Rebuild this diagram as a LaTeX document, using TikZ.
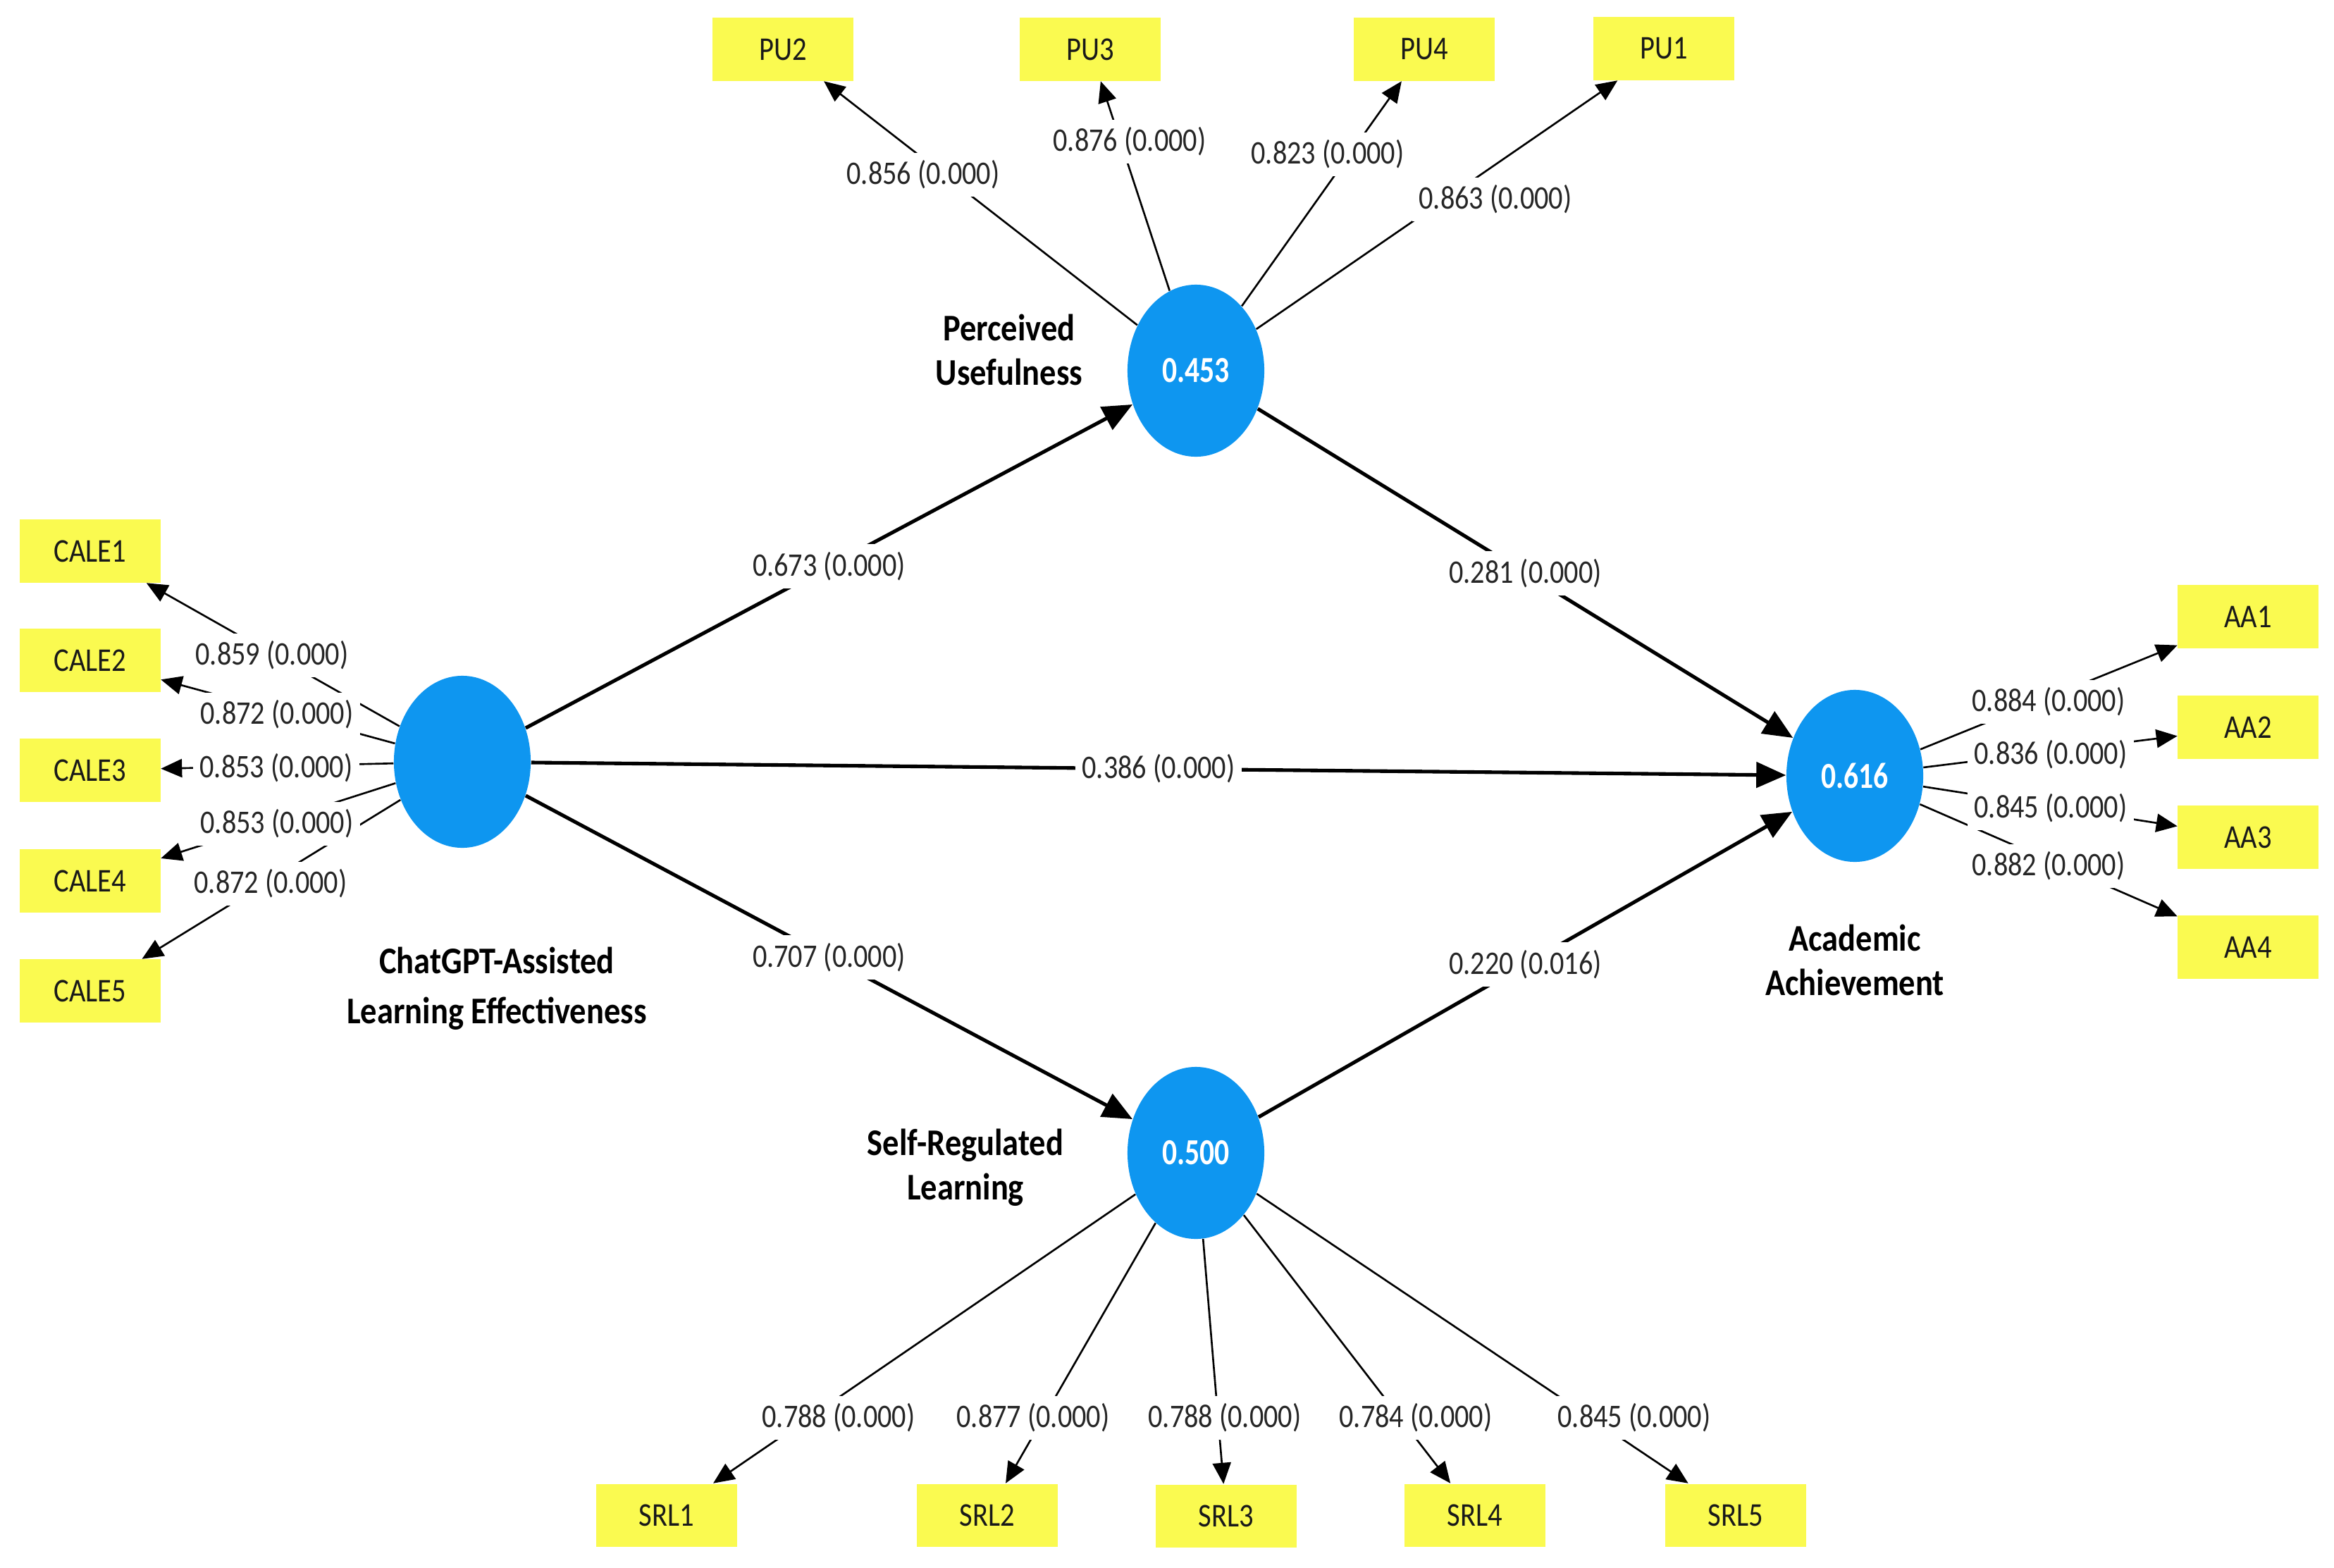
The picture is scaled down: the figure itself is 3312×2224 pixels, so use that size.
\documentclass[tikz,border=0pt]{standalone}
\usepackage{fontspec}
\setmainfont{Carlito}
\newfontfamily\lblfont[FakeStretch=0.86]{Carlito}
\newfontfamily\valfont[FakeStretch=0.8]{Carlito}
\newfontfamily\ttlfont[FakeStretch=0.87]{Carlito}
\usetikzlibrary{arrows.meta,calc,shapes.geometric}
\definecolor{lvblue}{RGB}{14,150,240}
\definecolor{mvyellow}{RGB}{250,250,80}
\begin{document}
\begin{tikzpicture}[x=0.01cm,y=-0.01cm,
 latent/.style={ellipse,fill=lvblue,minimum width=1.94cm,minimum height=2.44cm,inner sep=0pt,text=white,font=\valfont\bfseries\fontsize{14.8}{16}\selectfont},
 ind/.style={rectangle,fill=mvyellow,minimum width=1.99cm,minimum height=0.89cm,inner sep=0pt,font=\lblfont\fontsize{13.4}{15}\selectfont,text=black!90},
 ttl/.style={align=center,font=\ttlfont\bfseries\fontsize{15.2}{17.9}\selectfont,inner sep=0pt},
 coef/.style={fill=white,inner xsep=0.1cm,inner ysep=0.11cm,font=\lblfont\fontsize{13.3}{15}\selectfont,text=black!85},
 strpath/.style={line width=1.45pt,-{Triangle[length=0.42cm,width=0.36cm]}},
 loadpath/.style={line width=0.75pt,-{Triangle[length=0.3cm,width=0.26cm]}},
]
\fill[white] (0,0) rectangle (3312,2224);
\useasboundingbox (0,0) rectangle (3312,2224);

% latent variables
\node[latent] (cale) at (656,1081) {};
\node[latent] (pu) at (1697,526) {0.453};
\node[latent] (srl) at (1697,1636) {0.500};
\node[latent] (aa) at (2632,1101) {0.616};

% titles
\node[ttl,font=\ttlfont\bfseries\fontsize{15.2}{20.2}\selectfont] (tcale) at (705,1403) {ChatGPT-Assisted\\Learning Effectiveness};
\node[ttl] (tpu) at (1432,496) {Perceived\\Usefulness};
\node[ttl] (tsrl) at (1370,1657) {Self-Regulated\\Learning};
\node[ttl] (taa) at (2632,1362) {Academic\\Achievement};

% indicators
\node[ind] (cale1) at (128,782) {CALE1};
\node[ind] (cale2) at (128,937) {CALE2};
\node[ind] (cale3) at (128,1093) {CALE3};
\node[ind] (cale4) at (128,1250) {CALE4};
\node[ind] (cale5) at (128,1406) {CALE5};

\node[ind] (pu2) at (1111,70) {PU2};
\node[ind] (pu3) at (1547,70) {PU3};
\node[ind] (pu4) at (2021,70) {PU4};
\node[ind] (pu1) at (2361,69) {PU1};

\node[ind] (aa1) at (3190,875) {AA1};
\node[ind] (aa2) at (3190,1032) {AA2};
\node[ind] (aa3) at (3190,1188) {AA3};
\node[ind] (aa4) at (3190,1344) {AA4};

\node[ind] (srl1) at (946,2150) {SRL1};
\node[ind] (srl2) at (1401,2150) {SRL2};
\node[ind] (srl3) at (1740,2151) {SRL3};
\node[ind] (srl4) at (2093,2150) {SRL4};
\node[ind] (srl5) at (2463,2150) {SRL5};

% loading connectors
\foreach \i in {1,...,5} \draw[loadpath] (cale) -- (cale\i);
\foreach \i in {1,...,4} \draw[loadpath] (pu) -- (pu\i);
\foreach \i in {1,...,4} \draw[loadpath] (aa) -- (aa\i);
\foreach \i in {1,...,5} \draw[loadpath] (srl) -- (srl\i);

% structural paths
\draw[strpath] (cale) -- (pu);
\draw[strpath] (cale) -- (aa);
\draw[strpath] (cale) -- (srl);
\draw[strpath] (pu) -- (aa);
\draw[strpath] (srl) -- (aa);

% structural coefficients
\node[coef] (k1) at ($(cale)!0.5!(pu)$) {0.673 (0.000)};
\node[coef] (k2) at ($(cale)!0.5!(aa)$) {0.386 (0.000)};
\node[coef] (k3) at ($(cale)!0.5!(srl)$) {0.707 (0.000)};
\node[coef] (k4) at ($(pu)!0.5!(aa)$) {0.281 (0.000)};
\node[coef] (k5) at ($(srl)!0.5!(aa)$) {0.220 (0.016)};

% loadings
\node[coef] (lc1) at (386,930) {0.859 (0.000)};
\node[coef] (lc2) at (393,1014) {0.872 (0.000)};
\node[coef] (lc3) at (392,1090) {0.853 (0.000)};
\node[coef] (lc4) at (393,1169) {0.853 (0.000)};
\node[coef] (lc5) at (384,1254) {0.872 (0.000)};

\node[coef] (lp2) at (1310,248) {0.856 (0.000)};
\node[coef] (lp3) at (1603,201) {0.876 (0.000)};
\node[coef] (lp4) at (1884,219) {0.823 (0.000)};
\node[coef] (lp1) at (2122,283) {0.863 (0.000)};

\node[coef] (la1) at (2907,996) {0.884 (0.000)};
\node[coef] (la2) at (2910,1071) {0.836 (0.000)};
\node[coef] (la3) at (2910,1147) {0.845 (0.000)};
\node[coef] (la4) at (2907,1229) {0.882 (0.000)};

\node[coef] (ls1) at (1190,2012) {0.788 (0.000)};
\node[coef] (ls2) at (1466,2012) {0.877 (0.000)};
\node[coef] (ls3) at (1738,2012) {0.788 (0.000)};
\node[coef] (ls4) at (2009,2012) {0.784 (0.000)};
\node[coef] (ls5) at (2319,2012) {0.845 (0.000)};
\end{tikzpicture}
\end{document}
